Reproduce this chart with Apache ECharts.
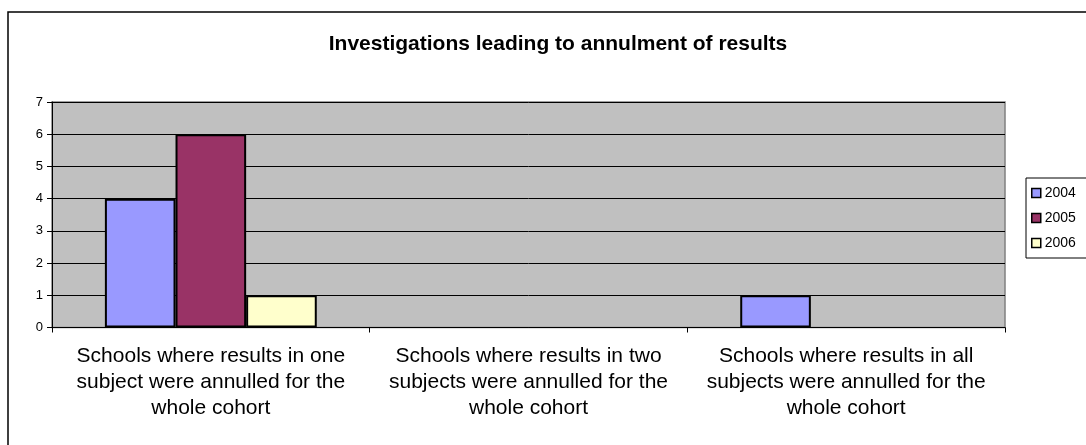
<!DOCTYPE html>
<html>
<head>
<meta charset="utf-8">
<script src="https://cdn.jsdelivr.net/npm/echarts@6/dist/echarts.min.js"></script>
<style>
  html, body { margin: 0; padding: 0; background: #ffffff; }
  #chart { width: 1086px; height: 445px; }
</style>
</head>
<body>
<div id="chart"></div>
<script>
// Annulment investigations by school category and year
const categories = [
  'Schools where results in one\nsubject were annulled for the\nwhole cohort',
  'Schools where results in two\nsubjects were annulled for the\nwhole cohort',
  'Schools where results in all\nsubjects were annulled for the\nwhole cohort'
];
const years = ['2004', '2005', '2006'];
const values2004 = [4, null, 1];
const values2005 = [6, null, null];
const values2006 = [1, null, null];
const yTicks = [0, 1, 2, 3, 4, 5, 6, 7];

const colors = ['#9999FF', '#993366', '#FFFFCC'];
const seriesValues = [values2004, values2005, values2006];
const FONT = '"Liberation Sans", Arial, sans-serif';

const chart = echarts.init(document.getElementById('chart'), null, { renderer: 'canvas' });

chart.setOption({
  animation: false,
  textStyle: { fontFamily: FONT },
  graphic: [{
    type: 'rect',
    shape: { x: 8, y: 12, width: 1200, height: 600 },
    style: { fill: 'none', stroke: '#000', lineWidth: 1.5 },
    silent: true,
    z: -10
  }],
  title: {
    text: 'Investigations leading to annulment of results',
    left: 553,
    textAlign: 'center',
    top: 29,
    textStyle: { fontFamily: FONT, fontSize: 21, fontWeight: 'bold', color: '#000' }
  },
  legend: {
    orient: 'vertical',
    left: 1026,
    top: 178,
    data: years,
    icon: 'rect',
    itemWidth: 9,
    itemHeight: 9,
    itemGap: 11,
    padding: [8, 14, 8, 5],
    backgroundColor: '#fff',
    borderColor: '#000',
    borderWidth: 1,
    itemStyle: { borderColor: '#000', borderWidth: 1.5 },
    textStyle: { fontFamily: FONT, fontSize: 14, color: '#000', padding: [0, 0, 0, -1] }
  },
  grid: {
    left: 52,
    right: 81,
    top: 102,
    bottom: 117.5,
    show: true,
    backgroundColor: '#C0C0C0',
    borderColor: '#808080',
    borderWidth: 1.5
  },
  xAxis: {
    type: 'category',
    data: categories,
    axisLine: { lineStyle: { color: '#000', width: 1 } },
    axisTick: { show: true, length: 5, lineStyle: { color: '#000' } },
    axisLabel: {
      color: '#000',
      fontFamily: FONT,
      fontSize: 21,
      lineHeight: 26,
      margin: 16,
      interval: 0
    }
  },
  yAxis: {
    type: 'value',
    min: yTicks[0],
    max: yTicks[yTicks.length - 1],
    interval: 1,
    axisLine: { show: true, lineStyle: { color: '#000', width: 1 } },
    axisTick: { show: true, length: 5, lineStyle: { color: '#000' } },
    axisLabel: { color: '#000', fontFamily: FONT, fontSize: 13, margin: 9 },
    splitLine: { show: true, lineStyle: { color: '#000', width: 1 } }
  },
  series: years.map((y, i) => ({
    name: y,
    type: 'bar',
    data: seriesValues[i],
    barGap: '0%',
    barCategoryGap: '33.3%',
    itemStyle: { color: colors[i], borderColor: '#000', borderWidth: 2 }
  }))
});
</script>
</body>
</html>
